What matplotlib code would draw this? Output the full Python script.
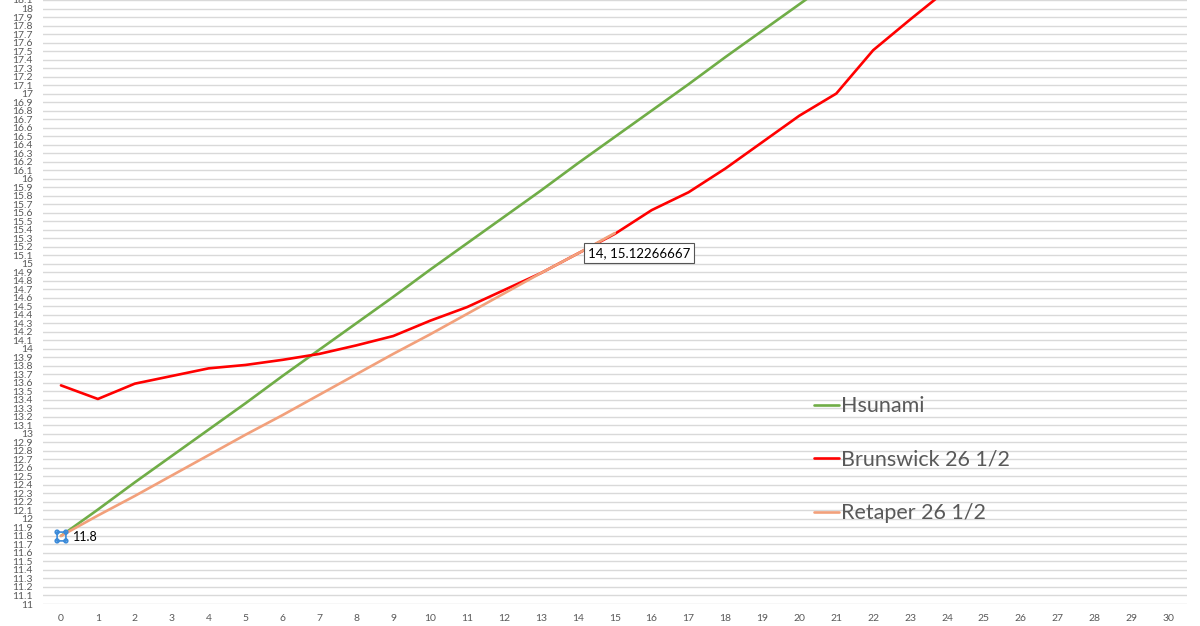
import numpy as np
import matplotlib
matplotlib.use("Agg")
import matplotlib.pyplot as plt
from matplotlib.path import Path

# values
x_hsunami = list(range(0, 22))
y_hsunami = [11.80, 12.11, 12.43, 12.74, 13.05, 13.36, 13.68, 13.99, 14.30, 14.61, 14.93,
             15.24, 15.55, 15.86, 16.18, 16.49, 16.80, 17.11, 17.43, 17.74, 18.05, 18.36]

x_brunswick = list(range(0, 25))
y_brunswick = [13.57, 13.41, 13.59, 13.68, 13.77, 13.81, 13.87, 13.94, 14.04, 14.15, 14.33,
               14.49, 14.69, 14.89, 15.12, 15.35, 15.63, 15.84, 16.12, 16.43, 16.74, 17.00,
               17.51, 17.87, 18.22]

x_retaper = list(range(0, 16))
y_retaper = [11.80, 12.04, 12.27, 12.51, 12.75, 12.99, 13.22, 13.46, 13.70, 13.94, 14.17,
             14.41, 14.65, 14.89, 15.12, 15.36]

labels = ["Hsunami", "Brunswick 26 1/2", "Retaper 26 1/2"]
colors = ["#70AD47", "#FF0000", "#F2A07B"]

x_ticks = list(range(0, 31))
y_ticks = [round(11 + 0.1 * i, 1) for i in range(72)]

tip_x, tip_y, tip_text = 14, 15.12266667, "14, 15.12266667"
sel_x, sel_y = 0, 11.8

grey = "#595959"

fig = plt.figure(figsize=(12, 6.26), dpi=100)
# axes top sits just above the picture edge, like the cropped original
ax = fig.add_axes([42.5 / 1200, 1 - 604 / 626, (1187 - 42.5) / 1200, 606 / 626])

for xs, ys, lab, c in zip([x_hsunami, x_brunswick, x_retaper],
                          [y_hsunami, y_brunswick, y_retaper], labels, colors):
    ax.plot(xs, ys, color=c, lw=1.9, label=lab, solid_capstyle="round", solid_joinstyle="round")

ax.set_xlim(-0.5, 30.5)
ax.set_ylim(11, 18.1235)
ax.set_xticks(x_ticks)
ax.set_yticks(y_ticks)
ax.set_yticklabels([("%g" % v) for v in y_ticks])
ax.grid(axis="y", color="#D9D9D9", lw=1.0)
ax.set_axisbelow(True)
for s in ax.spines.values():
    s.set_visible(False)
ax.tick_params(length=0, labelsize=7.5, labelcolor=grey)
ax.tick_params(axis="y", pad=7)
ax.tick_params(axis="x", pad=7)
for t in ax.get_yticklabels() + ax.get_xticklabels():
    t.set_fontfamily("Lato")

# selected point handles: square outline with small circles at the corners
circ = Path.unit_circle()
corners = [(-1.0, -1.0), (1.0, -1.0), (1.0, 1.0), (-1.0, 1.0)]
verts = list(corners) + [corners[0]]
codes = [Path.MOVETO] + [Path.LINETO] * 3 + [Path.CLOSEPOLY]
for dx, dy in corners:
    verts.extend(circ.vertices * 0.42 + np.array([dx, dy]))
    codes.extend(circ.codes)
handles_marker = Path(verts, codes)
ax.plot([sel_x], [sel_y], marker=handles_marker, ms=9, mfc="none", mec="#3D8BD9", mew=1.2,
        ls="none", zorder=5)
ax.annotate("%g" % sel_y, (sel_x, sel_y), xytext=(12, -1), textcoords="offset pixels",
            ha="left", va="center", fontsize=9, color="#000000", family="Lato")

# hover tooltip
ax.annotate(tip_text, (tip_x, tip_y), xytext=(10, 0), textcoords="offset pixels",
            ha="left", va="center", fontsize=9.5, color="#000000", family="Lato",
            bbox=dict(boxstyle="square,pad=0.3", fc="white", ec="#555555", lw=0.8), zorder=6)

leg = ax.legend(loc="upper left", bbox_to_anchor=(795 / 1200, 1 - 377 / 626),
                bbox_transform=fig.transFigure, frameon=False,
                handlelength=1.15, handletextpad=0.1, labelspacing=1.55,
                prop={"family": "Lato", "size": 15.5})
for t in leg.get_texts():
    t.set_color(grey)

fig.savefig("out.png", dpi=100)
